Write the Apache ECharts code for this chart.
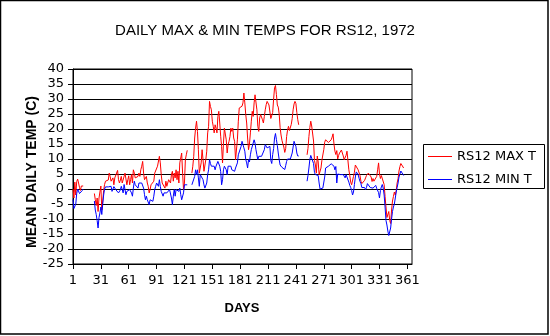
<!DOCTYPE html>
<html><head><meta charset="utf-8">
<script src="https://cdn.jsdelivr.net/npm/echarts@6/dist/echarts.min.js"></script>
<style>html,body{margin:0;padding:0;background:#fff}#c{width:550px;height:336px}</style>
</head><body><div id="c"></div>
<script>
const chartTitle = 'DAILY MAX & MIN TEMPS FOR RS12, 1972';
const xTitle = 'DAYS';
const yTitle = 'MEAN DAILY TEMP (C)';
const seriesNames = ['RS12 MAX T', 'RS12 MIN T'];
const dayCount = 366;
const days = Array.from({length: dayCount}, (_, i) => String(i + 1));
const yMin = -25, yMax = 40, yStep = 5;
const missing = n => Array(n).fill(null);

// MAX T, runs of recorded days
const max001_012 = [0, -3, 2.3, -2, 2.5, 3.3, 2, 0.5, -0.5, 1, 1.5, 1];
const max024_035 = [-1.5, -3.5, -5.5, -3, -7.5, -3, -1, 1, -7, -4, -0.5, 1.5];
const max036_104 = [2.6, 2.6, 2.8, 3.0, 5.3, 4.2, 2.6, 2.0, 3.7, 1.4, 3.7, 4.2, 4.2, 6.2, 3.1, 2.0, 3.0, 4.2, 2.0, 2.6, 1.8, 5.3, 5.3, 1.4, 3.1, 4.4, 1.4, 3.1, 4.8, 2.0, 6.4, 5.3, 3.7, 4.0, 3.7, 4.2, 5.3, 4.2, 6.4, 7.6, 9.2, 5.3, 3.1, 3.7, 4.2, 2.0, 0.9, -1.3, -0.2, 1.4, 1.0, 0.9, 2.6, 5.3, 5.9, 5.3, 7.6, 8.1, 10.9, 8.7, 4.8, 2.0, 1.4, 2.6, 0.3, 2.6, 0.9, 2.0, 3.1];
const max105_124 = [2.6, 2.0, 4.8, 5.9, 2.6, 5.3, 3.7, 6.4, 3.1, 5.9, 2.0, 8.7, 9.2, 12.0, 5.3, -0.2, 2.0, 9.8, 11.4, 12.9];
const max129_212 = [5.3, 7.6, 10.9, 17.0, 20.3, 22.6, 19.2, 13.1, 5.3, 5.9, 8.7, 13.1, 9.8, 5.9, 6.4, 9.8, 12.6, 18.7, 20.9, 29.2, 27.5,
  26.4, 22.6, 20.9, 18.7, 21.4, 20.3, 18.7, 24.2, 25.9, 22.0, 17.6, 14.2, 8.7, 15.3, 20.3, 19.8, 16.4, 12.0, 14.8, 15.9, 17.5,
  20.3, 19.2, 20.3, 17.0, 15.9, 9.8, 9.2, 16.4, 22.6, 27.0, 26.4, 27.0, 27.6, 28.7, 32.0, 28.7, 24.8, 22.0, 17.0, 13.1, 15.0,
  18.7, 22.6, 25.9, 24.2, 28.7, 31.4, 31.4, 26.4, 20.9, 19.2, 23.7, 24.8, 24.2, 23.1, 22.0, 24.2, 26.4, 28.1, 29.2, 28.7, 28.0];
const max213_244 = [27.6, 23.5, 23.5, 25.5, 30.0, 33.7, 34.5, 31.5, 28.0, 27.3, 25.0, 20.5, 18.0, 16.2, 15.0, 14.0, 12.2, 13.5, 17.5, 19.6, 20.9, 19.5, 19.5, 21.5, 23.5, 26.4, 28.3, 29.2, 28.5, 25.5, 23.1, 21.4];
const max253_320 = [11.4, 13.5, 17.5, 20.5, 22.6, 21.0, 21.4, 16.0, 9.5, 8.0, 5.3, 11.0, 9.0, 4.8, 4.5, 7.0, 9.6, 9.8, 13.1, 15.6, 16.4, 16.1, 16.2, 15.5, 15.8, 15.9, 16.4, 17.3, 18.4, 15.0, 12.6, 11.5, 12.8, 10.0, 11.2, 12.0, 12.6, 13.0, 13.5, 11.0, 9.8, 9.5, 11.2, 12.6, 12.0, 6.4, 4.5, 2.3, 1.4, 1.8, 4.2, 5.6, 8.0, 8.1, 7.8, 6.4, 6.0, 4.5, 2.6, 1.8, 2.0, 2.2, 2.9, 3.7, 4.5, 4.8, 5.3, 5.9];
const max321_357 = [5.0, 4.0, 2.5, 3.5, 2.6, 3.0, 2.6, 4.2, 6.4, 8.7, 5.0, 3.5, 4.5, 5.0, 4.0, 1.5, -2.5, -6.0, -9.5, -10.0, -7.5, -10.5, -11.5, -7.0, -4.0, -2.5, -1.0, -2.0, -0.5, 2.0, 3.5, 6.0, 7.5, 8.5, 9.0, 8.0, 7.0];

// MIN T, runs of recorded days
const min001_012 = [-3.5, -6.5, -7, -5, -1.5, 0, -0.5, -1.5, -1, -1, -0.5, 0];
const min024_035 = [-4, -7, -8.5, -10.5, -13, -9.5, -8, -6, -8.5, -5, -2, 0];
const min036_104 = [0.7, 0.7, 0.7, 0.7, 0.9, 0.3, 0.9, -0.8, -1.3, 0.8, 0.3, -0.2, -0.8, -0.8, -1.3, -0.8, -0.3, 0.9, -0.2, -1.3, 1.5, -0.2, -1.9, -0.8, -1.3, -0.8, -0.2, 0.3, -1.3, -2.4, 0.3, 2.6, 1.4, 1.0, 0.9, 0.3, 2.0, 1.4, 1.4, 2.0, 1.4, 0.3, -1.9, -3.6, -2.4, -3.6, -4.1, -5.2, -3.6, -4.1, -4.0, -4.1, -2.4, -0.2, 0.9, 2.0, 2.0, 0.9, 3.1, 0.9, -0.8, -1.3, -2.4, -1.3, -1.9, -0.8, -1.3, -1.0, -1.3];
const min105_124 = [-0.2, -0.8, -3.0, -5.2, -2.4, -0.2, -2.4, -0.2, -0.2, -0.8, -0.8, 0.3, -1.9, -3.6, -4.1, -1.3, 1.4, 1.8, 1.8, 1.4];
const min129_212 = [1.4, 1.1, 1.4, 4.2, 6.4, 4.8, 6.4, 3.7, 0.9, 4.8, 4.8, 4.2, 3.1, 1.4, 0.3, -0.2, 2.0, 4.8, 6.4, 9.8, 8.5,
  7.6, 7.0, 7.0, 7.6, 6.4, 7.6, 7.0, 9.2, 9.8, 7.6, 5.9, 1.4, 3.1, 6.4, 7.6, 8.1, 6.4, 4.8, 7.6, 8.1, 7.5,
  7.6, 6.4, 5.9, 6.4, 5.9, 7.0, 7.6, 8.7, 11.4, 10.9, 11.4, 14.2, 15.9, 15.3, 13.7, 12.6, 9.8, 8.7, 7.0, 9.8, 9.0,
  11.4, 13.1, 13.1, 13.7, 16.4, 15.3, 13.1, 11.4, 9.8, 10.9, 10.3, 11.4, 10.9, 10.3, 11.4, 13.1, 14.8, 14.2, 13.7, 13.7, 13.5];
const min213_244 = [14.2, 9.5, 8.5, 11.5, 13.5, 17.0, 18.5, 16.5, 14.5, 12.0, 9.8, 8.0, 7.5, 7.2, 7.8, 7.0, 6.5, 7.8, 9.2, 10.0, 10.6, 9.5, 10.0, 10.6, 12.0, 14.0, 15.9, 15.5, 14.2, 12.0, 11.0, 11.0];
const min253_320 = [2.6, 4.5, 7.0, 9.8, 11.2, 11.0, 11.8, 8.5, 5.5, 4.8, 4.8, 4.3, 4.5, 2.0, 0.0, 0.3, 0.3, 0.3, 0.5, 4.0, 7.0, 7.4, 7.2, 7.6, 7.6, 8.1, 8.4, 8.7, 8.7, 7.6, 6.4, 7.5, 2.0, 5.0, 5.5, 5.3, 4.8, 5.0, 5.3, 4.8, 4.5, 3.7, 4.8, 4.5, 4.8, 2.3, 1.2, 0.5, -0.5, -2.0, -1.0, 1.5, 4.0, 5.7, 6.2, 4.8, 3.6, 2.5, 1.8, 0.5, 0.8, 0.5, 0.5, -0.2, 0.5, 1.8, 1.6, 1.6];
const min321_357 = [0.5, 0.8, 0.5, 0.3, 0.8, 0.3, 1.2, 0.2, 0.7, -1.2, -3.0, -0.5, 0.7, 1.5, 0.3, -2.0, -6.0, -10.5, -12.0, -14.0, -15.5, -15.0, -13.0, -10.0, -7.5, -6.0, -5.0, -3.0, -1.0, 0.5, 2.0, 4.0, 5.0, 6.0, 6.5, 5.5, 4.5];

const maxT = [].concat(max001_012, missing(11), max024_035, max036_104, max105_124, missing(4),
  max129_212, max213_244, missing(8), max253_320, max321_357, missing(9));
const minT = [].concat(min001_012, missing(11), min024_035, min036_104, min105_124, missing(4),
  min129_212, min213_244, missing(8), min253_320, min321_357, missing(9));

const chart = echarts.init(document.getElementById('c'), null, {renderer: 'canvas'});
const lbl = {fontFamily: 'DejaVu Sans', fontSize: 13, color: '#000'};
chart.setOption({
  animation: false,
  backgroundColor: '#fff',
  title: {
    text: chartTitle, left: 260, top: 18, textAlign: 'center',
    textStyle: {fontFamily: 'Liberation Sans', fontSize: 15, fontWeight: 'normal', color: '#000'}
  },
  grid: {left: 73, right: 138, top: 69, bottom: 72, show: true, borderColor: '#000', borderWidth: 1},
  legend: {
    orient: 'vertical', left: 423, top: 144, itemWidth: 24, itemHeight: 1, itemGap: 8,
    icon: 'rect',
    padding: [5, 8, 5, 5], borderWidth: 0,
    textStyle: Object.assign({lineHeight: 15}, lbl), data: seriesNames
  },
  xAxis: {
    type: 'category', data: days, boundaryGap: false,
    axisLine: {onZero: false, lineStyle: {color: '#000', width: 1}},
    axisTick: {interval: 29, length: 5, lineStyle: {color: '#000'}},
    axisLabel: Object.assign({interval: 29, margin: 10}, lbl),
    splitLine: {show: false}
  },
  yAxis: {
    type: 'value', min: yMin, max: yMax, interval: yStep,
    axisLine: {show: true, lineStyle: {color: '#000', width: 1}},
    axisTick: {show: true, length: 5, lineStyle: {color: '#000'}},
    axisLabel: Object.assign({margin: 9}, lbl),
    splitLine: {show: true, lineStyle: {color: '#000', width: 1}}
  },
  graphic: [
    {type: 'rect', shape: {x: 0.5, y: 0.5, width: 547.5, height: 333.5}, style: {fill: null, stroke: '#000', lineWidth: 1.5}, silent: true},
    {type: 'rect', shape: {x: 423.5, y: 144.5, width: 121, height: 44}, style: {fill: null, stroke: '#000', lineWidth: 1}, silent: true, z: 10},
    {type: 'text', x: 242, y: 308, style: {text: xTitle, textAlign: 'center', textVerticalAlign: 'middle', fontFamily: 'Liberation Sans', fontSize: 13, fontWeight: 'bold', fill: '#000'}},
    {type: 'text', x: 32, y: 172, rotation: Math.PI / 2, style: {text: yTitle, textAlign: 'center', textVerticalAlign: 'middle', fontFamily: 'Liberation Sans', fontSize: 14, fontWeight: 'bold', fill: '#000'}}
  ],
  series: [
    {name: seriesNames[0], type: 'line', data: maxT, symbol: 'none', connectNulls: false, lineStyle: {color: '#ff0000', width: 1}, itemStyle: {color: '#ff0000'}},
    {name: seriesNames[1], type: 'line', data: minT, symbol: 'none', connectNulls: false, lineStyle: {color: '#0000ff', width: 1}, itemStyle: {color: '#0000ff'}}
  ]
});
</script></body></html>
